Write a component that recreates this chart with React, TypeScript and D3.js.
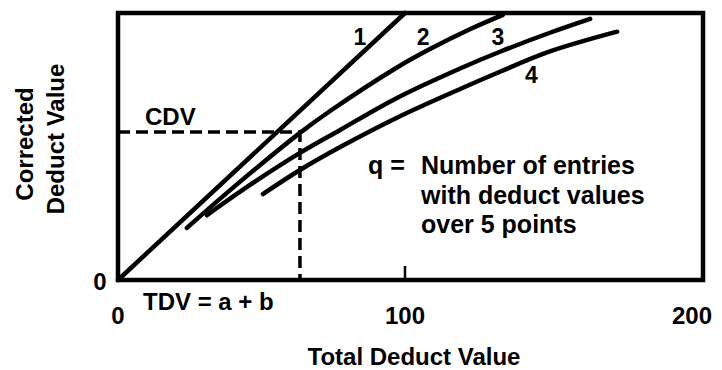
import React, { useRef, useEffect } from "react";
import * as d3 from "d3";

// curve labels (q)
const curveNames = ["1", "2", "3", "4"];

// total deduct value (x) and corrected deduct value (y)
const q1TDV = [0, 100];
const q1CDV = [0, 100];
const q2TDV = [24, 40, 63.4, 73.9, 97.2, 108.7, 122.6, 134.1];
const q2CDV = [19.5, 34.5, 55.1, 63.3, 79.6, 86.5, 93.9, 99.3];
const q3TDV = [31, 46, 63.4, 77.4, 97.2, 120.2, 133.1, 150.5, 164.5];
const q3CDV = [24.3, 35.6, 47.6, 56.2, 68.2, 79.7, 85.5, 92.6, 97.8];
const q4TDV = [50.5, 63.4, 77.4, 97.2, 120.2, 133.1, 150.5, 173.9];
const q4CDV = [32.2, 41.2, 49.8, 60.8, 72, 78, 85.6, 93];

// where the curve labels sit (TDV, CDV)
const labelTDV = [84.3, 106.3, 132.4, 144];
const labelCDV = [88, 88, 88, 73.8];

const xTicks = [0, 100, 200];
const cdvPoint = { tdv: 63.4, cdv: 55.4 };

const legendLines = ["Number of entries", "with deduct values", "over 5 points"];

const FONT = "'Liberation Sans', Arial, Helvetica, sans-serif";

const CurveChart = () => {
  const svgRef = useRef<SVGSVGElement>(null);

  useEffect(() => {
    const svg = d3.select(svgRef.current);
    svg.selectAll("*").remove();

    const x = d3.scaleLinear().domain([0, 200]).range([118, 692]);
    const y = d3.scaleLinear().domain([0, 100]).range([280, 13]);

    const series = [
      q1TDV.map((t, i) => [t, q1CDV[i]]),
      q2TDV.map((t, i) => [t, q2CDV[i]]),
      q3TDV.map((t, i) => [t, q3CDV[i]]),
      q4TDV.map((t, i) => [t, q4CDV[i]]),
    ];

    const line = d3
      .line<number[]>()
      .x((d) => x(d[0]))
      .y((d) => y(d[1]))
      .curve(d3.curveCatmullRom.alpha(0.5));

    // dashed CDV / TDV guides
    svg
      .append("path")
      .attr(
        "d",
        `M${x(0)},${y(cdvPoint.cdv)}H${x(cdvPoint.tdv)}V${y(0)}`
      )
      .attr("fill", "none")
      .attr("stroke", "#000")
      .attr("stroke-width", 3.5)
      .attr("stroke-dasharray", "12 6");

    // curves
    svg
      .append("g")
      .selectAll("path")
      .data(series)
      .join("path")
      .attr("d", (d) => line(d))
      .attr("fill", "none")
      .attr("stroke", "#000")
      .attr("stroke-width", 4.5)
      .attr("stroke-linecap", "round");

    // frame
    svg
      .append("rect")
      .attr("x", x(0))
      .attr("y", y(100))
      .attr("width", 703 - x(0))
      .attr("height", y(0) - y(100))
      .attr("fill", "none")
      .attr("stroke", "#000")
      .attr("stroke-width", 4.5);

    // tick at 100
    svg
      .append("line")
      .attr("x1", x(100))
      .attr("x2", x(100))
      .attr("y1", y(0))
      .attr("y2", y(0) - 14)
      .attr("stroke", "#000")
      .attr("stroke-width", 2.5);

    const txt = svg
      .append("g")
      .attr("font-family", FONT)
      .attr("font-weight", "bold")
      .attr("font-size", 24)
      .attr("fill", "#000");

    // x tick labels
    txt
      .selectAll("text.xt")
      .data(xTicks)
      .join("text")
      .attr("class", "xt")
      .attr("x", (d) => x(d))
      .attr("y", 324)
      .attr("text-anchor", "middle")
      .text((d) => d);

    txt
      .append("text")
      .attr("x", 100)
      .attr("y", 290)
      .attr("text-anchor", "middle")
      .text("0");

    txt.append("text").attr("x", 143).attr("y", 310).text("TDV = a + b");
    txt.append("text").attr("x", 145).attr("y", 125).text("CDV");

    // curve numbers
    txt
      .selectAll("text.cn")
      .data(curveNames)
      .join("text")
      .attr("class", "cn")
      .attr("font-size", 23)
      .attr("x", (d, i) => x(labelTDV[i]))
      .attr("y", (d, i) => y(labelCDV[i]))
      .attr("text-anchor", "middle")
      .text((d) => d);

    // legend note
    txt.append("text").attr("x", 368).attr("y", 174).attr("font-size", 25).text("q =");
    txt
      .selectAll("text.lg")
      .data(legendLines)
      .join("text")
      .attr("class", "lg")
      .attr("font-size", 25)
      .attr("x", 421)
      .attr("y", (d, i) => [174, 204, 233][i])
      .text((d) => d);

    // axis titles
    txt
      .append("text")
      .attr("x", 414)
      .attr("y", 365)
      .attr("text-anchor", "middle")
      .text("Total Deduct Value");

    txt
      .append("text")
      .attr("transform", "translate(33,144) rotate(-90)")
      .attr("text-anchor", "middle")
      .text("Corrected");
    txt
      .append("text")
      .attr("transform", "translate(64,139) rotate(-90)")
      .attr("text-anchor", "middle")
      .text("Deduct Value");
  }, []);

  return (
    <svg
      ref={svgRef}
      width={722}
      height={370}
      style={{ position: "absolute", left: 0, top: 0, background: "#fff" }}
    ></svg>
  );
};

export default function App() {
  return <CurveChart />;
}
